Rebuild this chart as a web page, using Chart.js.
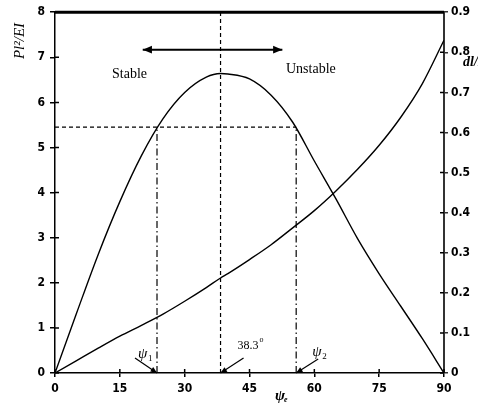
<!DOCTYPE html>
<html>
<head>
<meta charset="utf-8">
<script src="https://cdn.jsdelivr.net/npm/chart.js@4/dist/chart.umd.min.js"></script>
<style>
  html, body { margin: 0; padding: 0; background: #fff; }
  #chart { display: block; }
</style>
</head>
<body>
<canvas id="chart" width="478" height="406"></canvas>
<script>
// --- data
var angles     = [0, 5, 10, 15, 20, 25, 30, 35, 38.3, 40, 45, 50, 55, 60, 65, 70, 75, 80, 85, 90];
var loadRatio  = [0, 1.33, 2.63, 3.8, 4.82, 5.64, 6.22, 6.56, 6.64, 6.63, 6.52, 6.16, 5.56, 4.7, 3.86, 2.98, 2.2, 1.48, 0.76, 0];
var deflection = [0, 0.031, 0.062, 0.092, 0.119, 0.147, 0.179, 0.213, 0.237, 0.248, 0.283, 0.32, 0.362, 0.405, 0.454, 0.508, 0.568, 0.638, 0.722, 0.83];

var psi1 = 23.6;
var psi2 = 55.8;
var psiCrit = 38.3;
var crossLevel = 5.45;
var arrowFrom = 20.3, arrowTo = 52.6, arrowLevel = 7.17;

var xTicks = [0, 15, 30, 45, 60, 75, 90];
var yLeftMax = 8;
var yRightMax = 0.9;

var tickFont = { family: "'DejaVu Sans Condensed', 'Liberation Sans Narrow', sans-serif", size: 12, weight: 'bold' };
var serif = "'Liberation Serif', 'DejaVu Serif', serif";

function pts(xs, ys) {
    return xs.map(function (x, i) { return { x: x, y: ys[i] }; });
}

function guide(data, dash, axis) {
    return {
        data: data, yAxisID: axis || 'y',
        borderColor: '#000', borderWidth: 1.2, borderDash: dash,
        pointRadius: 0, fill: false, tension: 0
    };
}

function arrowHead(ctx, x0, y0, x1, y1, size) {
    var a = Math.atan2(y1 - y0, x1 - x0);
    ctx.beginPath();
    ctx.moveTo(x1, y1);
    ctx.lineTo(x1 - size * Math.cos(a - 0.4), y1 - size * Math.sin(a - 0.4));
    ctx.lineTo(x1 - size * Math.cos(a + 0.4), y1 - size * Math.sin(a + 0.4));
    ctx.closePath();
    ctx.fill();
}

function pointer(ctx, tx, ty, dx, dy) {
    ctx.beginPath();
    ctx.moveTo(tx + dx, ty + dy);
    ctx.lineTo(tx, ty);
    ctx.stroke();
    arrowHead(ctx, tx + dx, ty + dy, tx, ty, 7);
}

// extra drawing: frame, inner ticks, arrows and labels
var decorations = {
    id: 'decorations',
    afterDraw: function (chart) {
        var ctx = chart.ctx;
        var a = chart.chartArea;
        var x = chart.scales.x, y = chart.scales.y, y2 = chart.scales.y2;
        ctx.save();
        ctx.strokeStyle = '#000';
        ctx.fillStyle = '#000';

        // thick top edge
        ctx.lineWidth = 3;
        ctx.beginPath();
        ctx.moveTo(a.left, a.top);
        ctx.lineTo(a.right, a.top);
        ctx.stroke();

        // ticks poking into the plot
        ctx.lineWidth = 1.5;
        ctx.beginPath();
        y.ticks.forEach(function (t) {
            var p = y.getPixelForValue(t.value);
            ctx.moveTo(a.left, p); ctx.lineTo(a.left + 4, p);
        });
        y2.ticks.forEach(function (t) {
            var p = y2.getPixelForValue(t.value);
            ctx.moveTo(a.right, p); ctx.lineTo(a.right - 4, p);
        });
        x.ticks.forEach(function (t) {
            var p = x.getPixelForValue(t.value);
            ctx.moveTo(p, a.bottom); ctx.lineTo(p, a.bottom - 4);
        });
        ctx.stroke();

        // stable / unstable arrow heads
        var ay = y.getPixelForValue(arrowLevel);
        var ax0 = x.getPixelForValue(arrowFrom), ax1 = x.getPixelForValue(arrowTo);
        arrowHead(ctx, ax1, ay, ax0, ay, 10);
        arrowHead(ctx, ax0, ay, ax1, ay, 10);

        // small pointers to the axis
        var base = y.getPixelForValue(0);
        ctx.lineWidth = 1.2;
        pointer(ctx, x.getPixelForValue(psi1), base, -22, -15);
        pointer(ctx, x.getPixelForValue(psiCrit), base, 23, -15);
        pointer(ctx, x.getPixelForValue(psi2), base, 22, -14);

        // texts
        ctx.textBaseline = 'alphabetic';
        ctx.textAlign = 'left';
        ctx.font = '14px ' + serif;
        ctx.fillText('Stable', 112, 78);
        ctx.fillText('Unstable', 286, 73);

        var p1 = x.getPixelForValue(psi1), p2 = x.getPixelForValue(psi2), pc = x.getPixelForValue(psiCrit);
        ctx.font = 'italic 15px ' + serif;
        ctx.fillText('\u03C8', p1 - 19, base - 15);
        ctx.fillText('\u03C8', p2 + 16, base - 17);
        ctx.font = '9px ' + serif;
        ctx.fillText('1', p1 - 9, base - 12);
        ctx.fillText('2', p2 + 26, base - 14);

        ctx.font = '12px ' + serif;
        ctx.fillText('38.3', pc + 17, base - 24);
        ctx.font = '8px ' + serif;
        ctx.fillText('o', pc + 39, base - 31);

        // x title
        ctx.font = 'italic bold 15px ' + serif;
        ctx.fillText('\u03C8', 275, 400);
        ctx.font = 'italic bold 8px ' + serif;
        ctx.fillText('e', 284, 402);

        // right title, cut by the edge
        ctx.font = 'italic bold 14px ' + serif;
        ctx.fillText('dl/L', 463, 66);

        // left title
        ctx.translate(24, 41);
        ctx.rotate(-Math.PI / 2);
        ctx.textAlign = 'center';
        ctx.font = 'italic 15px ' + serif;
        ctx.fillText('Pl\u00B2/EI', 0, 0);

        ctx.restore();
    }
};

var ctx = document.getElementById('chart');

new Chart(ctx, {
    type: 'line',
    data: {
        datasets: [
            {
                data: pts(angles, loadRatio), yAxisID: 'y',
                borderColor: '#000', borderWidth: 1.4, pointRadius: 0,
                fill: false, cubicInterpolationMode: 'monotone'
            },
            {
                data: pts(angles, deflection), yAxisID: 'y2',
                borderColor: '#000', borderWidth: 1.4, pointRadius: 0,
                fill: false, cubicInterpolationMode: 'monotone'
            },
            guide([{ x: 0, y: crossLevel }, { x: psi2, y: crossLevel }], [4, 3]),
            guide([{ x: psiCrit, y: 0 }, { x: psiCrit, y: yLeftMax }], [4, 3]),
            guide([{ x: psi1, y: 0 }, { x: psi1, y: crossLevel }], [7, 3, 1.5, 3]),
            guide([{ x: psi2, y: 0 }, { x: psi2, y: crossLevel }], [7, 3, 1.5, 3]),
            {
                data: [{ x: arrowFrom, y: arrowLevel }, { x: arrowTo, y: arrowLevel }], yAxisID: 'y',
                borderColor: '#000', borderWidth: 2, pointRadius: 0, fill: false
            }
        ]
    },
    options: {
        responsive: false,
        animation: false,
        layout: { padding: { top: 10, left: 0, right: 0, bottom: 0 } },
        plugins: {
            legend: { display: false },
            tooltip: { enabled: false }
        },
        scales: {
            x: {
                type: 'linear', min: 0, max: 90,
                afterBuildTicks: function (scale) {
                    scale.ticks = xTicks.map(function (v) { return { value: v }; });
                },
                afterFit: function (scale) { scale.height = 33; },
                grid: { drawOnChartArea: false, color: '#000', tickLength: 4, lineWidth: 1.5 },
                border: { color: '#000', width: 1.5 },
                ticks: { color: '#000', font: tickFont, padding: 5, maxRotation: 0 }
            },
            y: {
                position: 'left', min: 0, max: yLeftMax,
                afterFit: function (scale) { scale.width = 55; },
                grid: { drawOnChartArea: false, color: '#000', tickLength: 5, lineWidth: 1.5 },
                border: { color: '#000', width: 1.5 },
                ticks: { stepSize: 1, color: '#000', font: tickFont, padding: 5 }
            },
            y2: {
                position: 'right', min: 0, max: yRightMax,
                afterFit: function (scale) { scale.width = 34; },
                grid: { drawOnChartArea: false, color: '#333', tickLength: 4, lineWidth: 1.5 },
                border: { color: '#333', width: 2 },
                ticks: {
                    stepSize: 0.1, color: '#000', font: tickFont, padding: 3,
                    callback: function (v) { return v === 0 ? '0' : v.toFixed(1); }
                }
            }
        }
    },
    plugins: [decorations]
});
</script>
</body>
</html>
